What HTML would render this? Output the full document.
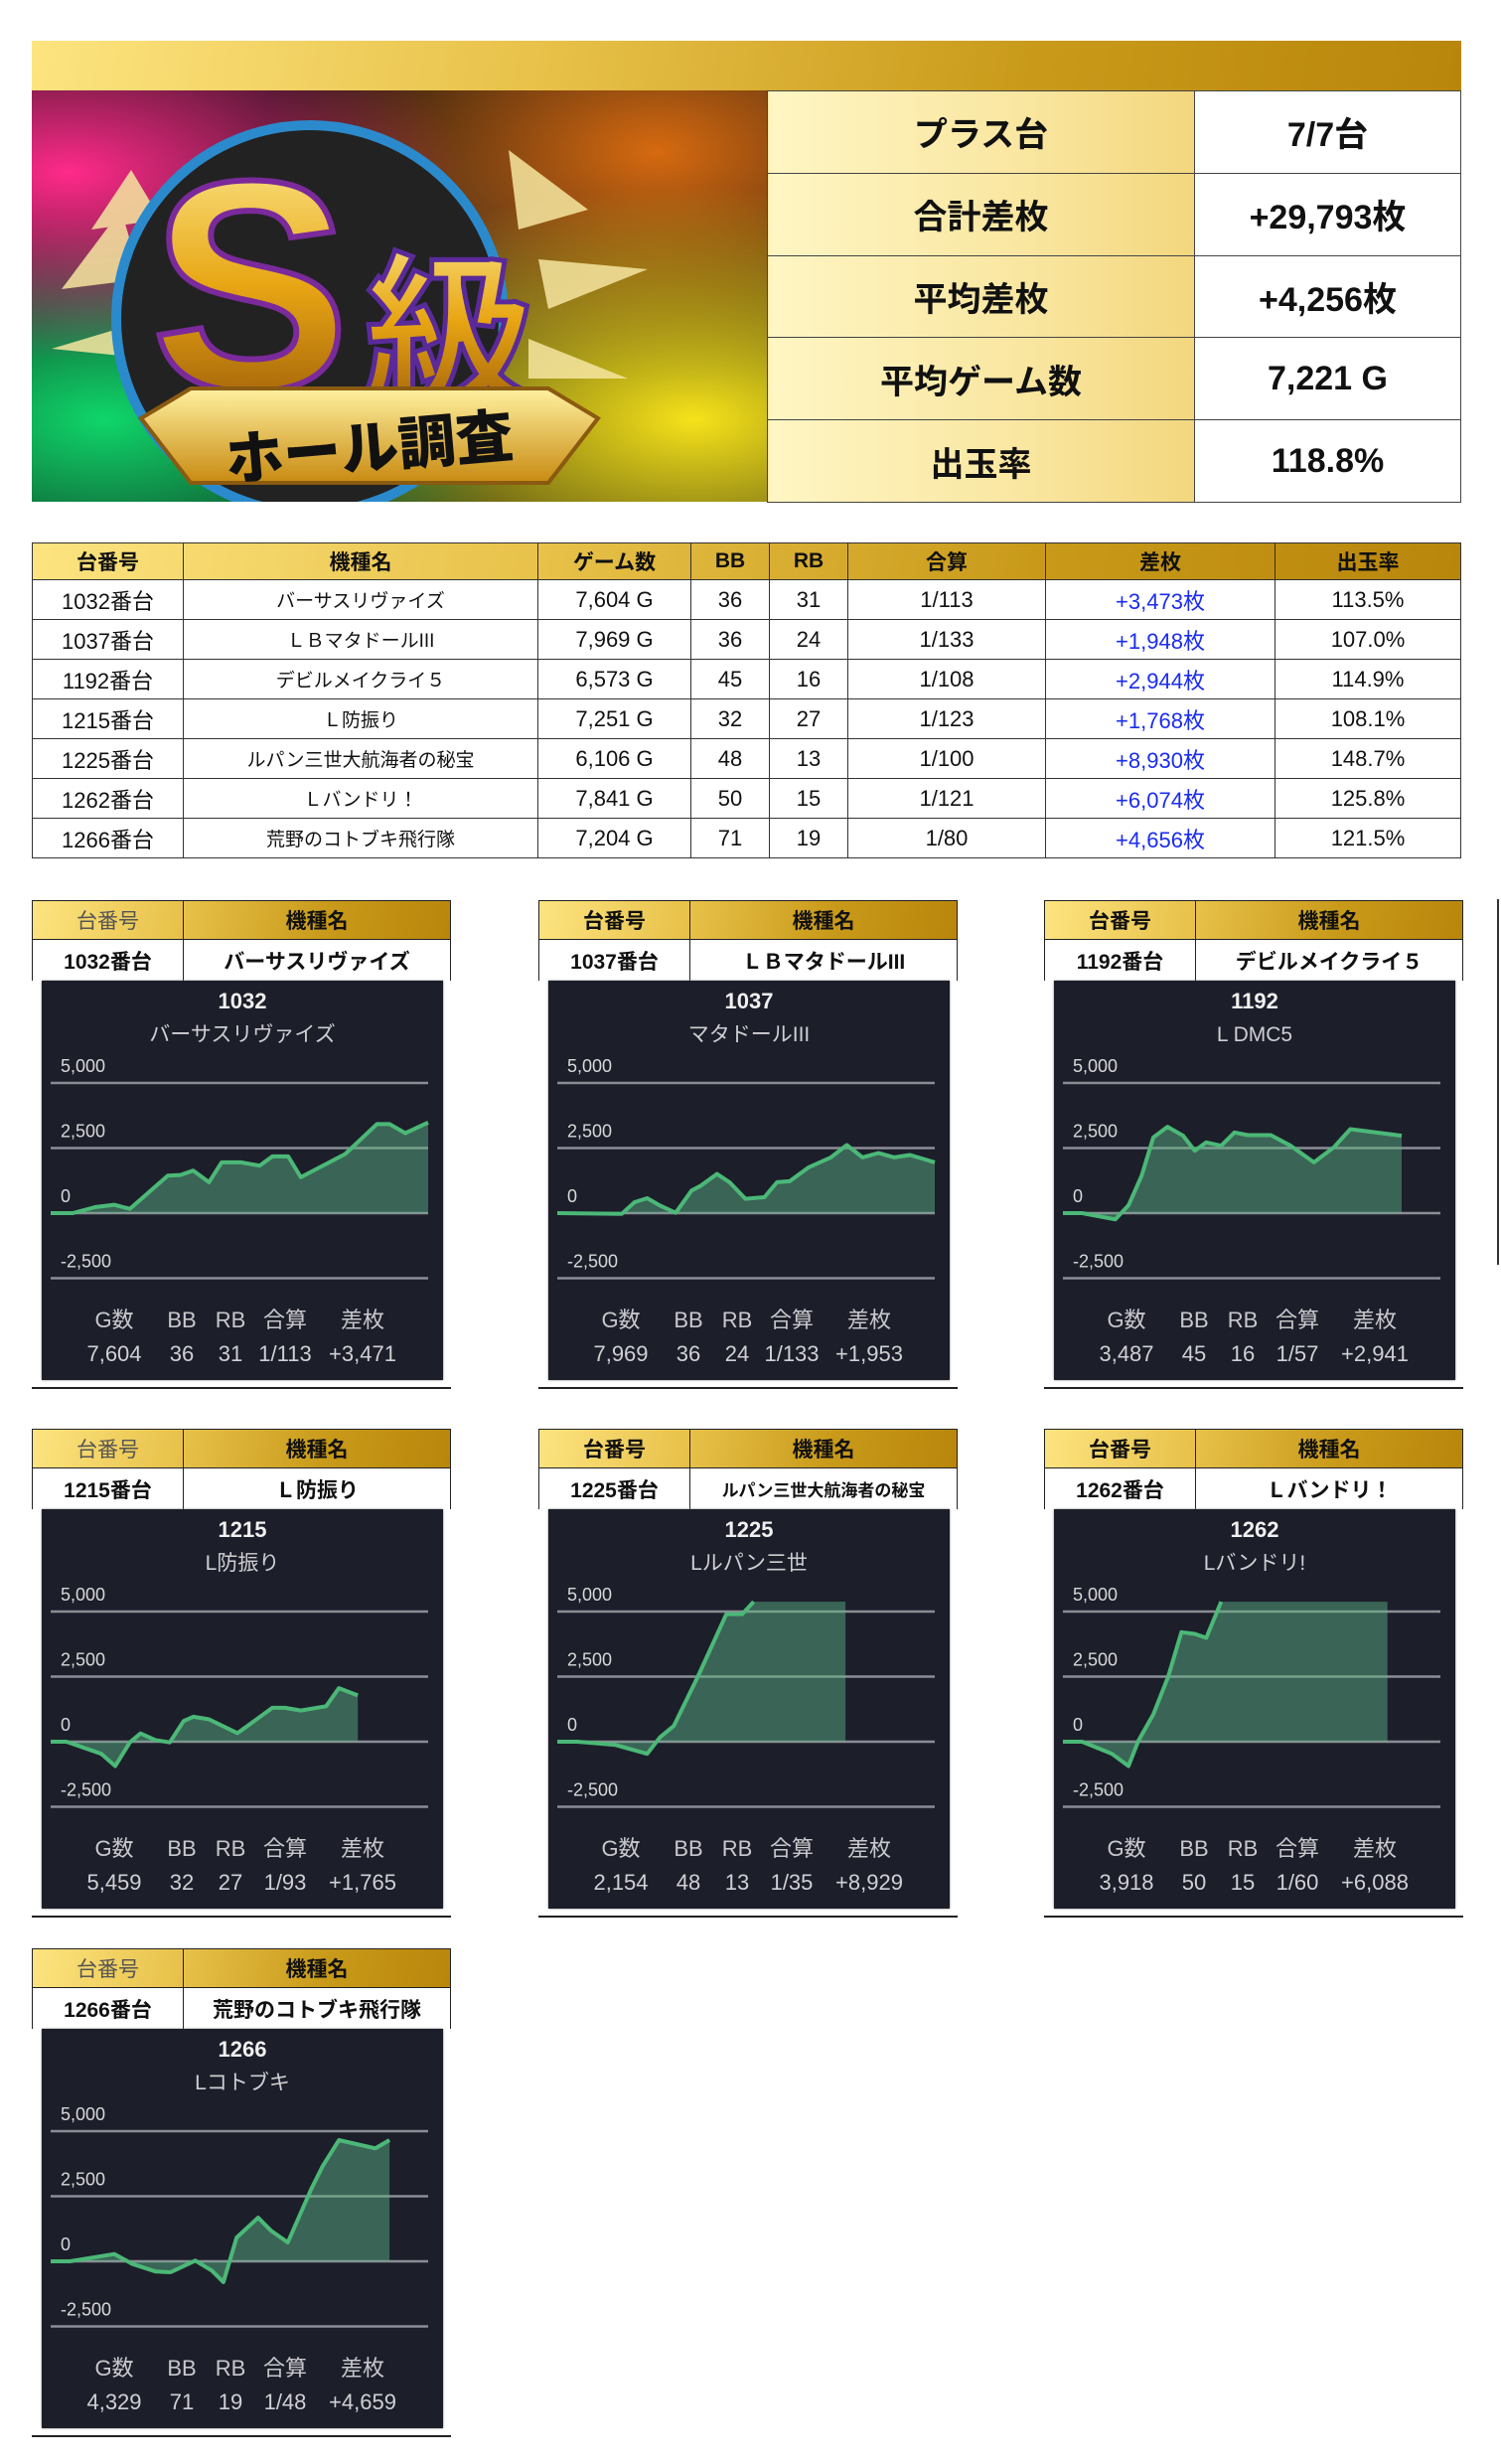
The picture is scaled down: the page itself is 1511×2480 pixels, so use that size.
<!DOCTYPE html>
<html><head><meta charset="utf-8">
<style>
*{margin:0;padding:0;box-sizing:border-box}
body{width:1511px;height:2480px;background:#fff;position:relative;overflow:hidden;font-family:"Liberation Sans","Noto Sans CJK JP",sans-serif;color:#111}
.abs{position:absolute}
.gold{background:linear-gradient(100deg,#fde480 0%,#e8c24a 35%,#c99a1a 70%,#b8860b 100%)}
#banner{left:32px;top:41px;width:1439px;height:50px}
#hero{left:32px;top:91px;width:740px;height:414px;overflow:hidden;
background:
radial-gradient(ellipse at 5% 20%,#ff2a8a 0%,rgba(255,40,140,0) 40%),
radial-gradient(ellipse at 10% 80%,#0fd66a 0%,rgba(20,200,100,0) 45%),
radial-gradient(ellipse at 90% 80%,#f6e21a 0%,rgba(240,220,20,0) 50%),
radial-gradient(ellipse at 85% 15%,#d66a10 0%,rgba(200,100,10,0) 45%),
radial-gradient(ellipse at 45% 50%,#2a2a2a 0%,#111 60%)}
#stats{left:772px;top:91px;width:699px;height:414px;border:1.5px solid #333;border-collapse:collapse}
#stats td{border:1.5px solid #444;height:82.8px;text-align:center;font-weight:bold;font-size:34px}
#stats td.l{width:430px;background:linear-gradient(90deg,#fff6c4,#f9e6a0 60%,#f3d77e)}
table.main{position:absolute;left:32px;top:546px;width:1439px;border-collapse:collapse;font-family:"Liberation Sans Narrow","Liberation Sans","Noto Sans CJK JP",sans-serif}
table.main th{height:37px;font-size:21px;font-weight:bold;border:1px solid #333}
table.main td{height:40px;font-size:22px;text-align:center;border:1px solid #333}
.blue{color:#1a2cf0}
.card{position:absolute;width:422px}
.ch{height:40px;display:flex;border:1px solid #222}
.ch div,.cd div{display:flex;align-items:center;justify-content:center;font-weight:bold;font-size:21px}
.ch div:first-child,.cd div:first-child{width:152px;border-right:1px solid #222}
.ch div:last-child,.cd div:last-child{flex:1}
.cd{height:41px;display:flex;border-left:1px solid #222;border-right:1px solid #222;background:#fff}
.thin{font-weight:normal!important;color:#555}
.cb{position:absolute;background:#1c1f2a;box-shadow:0 0 2px #777}
.bl{position:absolute;height:2px;background:#222}
</style></head><body>
<div id="banner" class="abs gold"></div>
<div id="hero" class="abs">
<svg width="740" height="414" style="position:absolute;left:0;top:0">
<defs>
<linearGradient id="g1" x1="0" y1="0" x2="0" y2="1"><stop offset="0" stop-color="#fff3a0"/><stop offset=".5" stop-color="#e8a614"/><stop offset="1" stop-color="#8a4a05"/></linearGradient>
<linearGradient id="g2" x1="0" y1="0" x2="0" y2="1"><stop offset="0" stop-color="#fff1a0"/><stop offset="1" stop-color="#c88a10"/></linearGradient>
</defs>
<g fill="#f6e6a0" opacity=".85">
<polygon points="90,120 30,200 110,190"/><polygon points="100,80 60,140 130,130"/><polygon points="120,230 20,260 120,270"/>
<polygon points="480,60 560,120 490,140"/><polygon points="510,170 620,180 520,220"/><polygon points="500,250 600,290 500,290"/>
</g>
<circle cx="280" cy="230" r="195" fill="#222" stroke="#2a8acc" stroke-width="10"/>
<text x="220" y="300" text-anchor="middle" font-size="300" font-weight="bold" font-family="Liberation Sans" fill="url(#g1)" stroke="#7a2a9a" stroke-width="6">S</text>
<text x="420" y="305" text-anchor="middle" font-size="170" font-weight="bold" font-family="Noto Sans CJK JP" fill="url(#g1)" stroke="#5a2a9a" stroke-width="5">級</text>
<polygon points="110,330 160,300 520,300 570,330 520,395 160,395" fill="url(#g2)" stroke="#8a5a10" stroke-width="4"/>
<text x="340" y="380" text-anchor="middle" font-size="58" font-weight="900" font-family="Noto Sans CJK JP" fill="#111" transform="rotate(-5 340 360)">ホール調査</text>
</svg>
</div>
<table id="stats" class="abs">
<tr><td class="l">プラス台</td><td>7/7台</td></tr>
<tr><td class="l">合計差枚</td><td>+29,793枚</td></tr>
<tr><td class="l">平均差枚</td><td>+4,256枚</td></tr>
<tr><td class="l">平均ゲーム数</td><td>7,221 G</td></tr>
<tr><td class="l">出玉率</td><td>118.8%</td></tr>
</table>
<table class="main">
<tr class="gold"><th style="width:152px">台番号</th><th style="width:357px">機種名</th><th style="width:154px">ゲーム数</th><th style="width:79px">BB</th><th style="width:79px">RB</th><th style="width:199px">合算</th><th style="width:231px">差枚</th><th>出玉率</th></tr>
<tr><td>1032番台</td><td style="font-size:19px">バーサスリヴァイズ</td><td>7,604 G</td><td>36</td><td>31</td><td>1/113</td><td class="blue">+3,473枚</td><td>113.5%</td></tr>
<tr><td>1037番台</td><td style="font-size:19px">ＬＢマタドールIII</td><td>7,969 G</td><td>36</td><td>24</td><td>1/133</td><td class="blue">+1,948枚</td><td>107.0%</td></tr>
<tr><td>1192番台</td><td style="font-size:19px">デビルメイクライ５</td><td>6,573 G</td><td>45</td><td>16</td><td>1/108</td><td class="blue">+2,944枚</td><td>114.9%</td></tr>
<tr><td>1215番台</td><td style="font-size:19px">Ｌ防振り</td><td>7,251 G</td><td>32</td><td>27</td><td>1/123</td><td class="blue">+1,768枚</td><td>108.1%</td></tr>
<tr><td>1225番台</td><td style="font-size:19px">ルパン三世大航海者の秘宝</td><td>6,106 G</td><td>48</td><td>13</td><td>1/100</td><td class="blue">+8,930枚</td><td>148.7%</td></tr>
<tr><td>1262番台</td><td style="font-size:19px">Ｌバンドリ！</td><td>7,841 G</td><td>50</td><td>15</td><td>1/121</td><td class="blue">+6,074枚</td><td>125.8%</td></tr>
<tr><td>1266番台</td><td style="font-size:19px">荒野のコトブキ飛行隊</td><td>7,204 G</td><td>71</td><td>19</td><td>1/80</td><td class="blue">+4,656枚</td><td>121.5%</td></tr>
</table>
<div class="abs" style="left:1507px;top:905px;width:2px;height:368px;background:#333"></div>
<div id="cards"></div>
<script>
const cards=[
{x:32,y:906,id:"1032",name:"バーサスリヴァイズ",sub:"バーサスリヴァイズ",thin:true,v:["7,604","36","31","1/113","+3,471"],
 x0:80,W:596,y0:993,s:196,pts:[[80,993],[115,993],[150,975],[180,968],[205,980],[265,880],[285,878],[305,865],[330,900],[350,840],[380,840],[410,850],[430,822],[455,822],[475,885],[545,815],[595,725],[615,725],[640,752],[676,720]]},
{x:542,y:906,id:"1037",name:"ＬＢマタドールIII",sub:"マタドールIII",v:["7,969","36","24","1/133","+1,953"],
 x0:878,W:596,y0:993,s:196,pts:[[878,993],[980,995],[1000,960],[1020,948],[1040,970],[1065,992],[1090,925],[1105,910],[1130,875],[1150,900],[1175,950],[1205,945],[1225,900],[1245,897],[1275,855],[1310,825],[1335,788],[1360,825],[1385,812],[1410,825],[1435,818],[1474,840]]},
{x:1051,y:906,id:"1192",name:"デビルメイクライ５",sub:"L DMC5",v:["3,487","45","16","1/57","+2,941"],
 x0:92,W:1140,y0:993,s:196,pts:[[92,993],[150,993],[250,1012],[290,970],[330,880],[365,765],[408,733],[455,760],[490,805],[525,780],[570,790],[610,750],[650,758],[720,758],[780,790],[850,840],[910,795],[960,740],[1115,760]]},
{x:32,y:1438,id:"1215",name:"Ｌ防振り",sub:"L防振り",thin:true,v:["5,459","32","27","1/93","+1,765"],
 x0:80,W:596,y0:988,s:198,pts:[[80,988],[105,988],[160,1025],[182,1062],[205,990],[222,963],[245,983],[268,990],[290,925],[305,912],[330,920],[375,962],[430,885],[450,885],[475,893],[515,880],[535,825],[565,847]]},
{x:542,y:1438,id:"1225",name:"ルパン三世大航海者の秘宝",sub:"Lルパン三世",small:true,v:["2,154","48","13","1/35","+8,929"],
 x0:878,W:596,y0:988,s:198,pts:[[878,988],[910,988],[970,998],[1020,1025],[1040,975],[1062,940],[1100,790],[1145,600],[1170,600],[1188,562]],flat:1333},
{x:1051,y:1438,id:"1262",name:"Ｌバンドリ！",sub:"Lバンドリ!",v:["3,918","50","15","1/60","+6,088"],
 x0:92,W:1140,y0:988,s:198,pts:[[92,988],[150,988],[240,1025],[290,1062],[320,985],[365,905],[410,790],[450,655],[490,660],[525,672],[570,562]],flat:1072},
{x:32,y:1961,id:"1266",name:"荒野のコトブキ飛行隊",sub:"Lコトブキ",thin:true,v:["4,329","71","19","1/48","+4,659"],
 x0:152,W:1143,y0:977,s:197,pts:[[152,977],[210,977],[345,955],[400,985],[470,1008],[515,1010],[590,975],[640,1005],[675,1040],[715,905],[780,845],[820,885],[870,920],[940,760],[975,690],[1025,610],[1135,635],[1178,610]]}
];
let h="";
for(const c of cards){
 const cy=c.y+81;
 h+=`<div class="card" style="left:${c.x}px;top:${c.y}px"><div class="ch gold"><div class="${c.thin?'thin':''}">台番号</div><div>機種名</div></div><div class="cd"><div>${c.id}番台</div><div style="${c.small?'font-size:17px':''}">${c.name}</div></div></div>`;
 const L=c.x+10,W=404,H=402,gx=9,gw=380,z=234,st=65.5;
 const P=c.pts.map(p=>[gx+(p[0]-c.x0)/c.W*gw, z-(c.y0-p[1])/c.s*st]);
 let line=P.map((p,i)=>(i?"L":"M")+p[0].toFixed(1)+","+p[1].toFixed(1)).join("");
 let last=P[P.length-1];
 let fill=line;
 if(c.flat){const fx=gx+(c.flat-c.x0)/c.W*gw;fill+=`L${fx.toFixed(1)},${last[1].toFixed(1)}L${fx.toFixed(1)},${z}`;}
 else fill+=`L${last[0].toFixed(1)},${z}`;
 fill+=`L${gx},${z}Z`;
 let g="";
 [[5000,"5,000"],[2500,"2,500"],[0,"0"],[-2500,"-2,500"]].forEach(([v,t])=>{const y=z-v/2500*st;g+=`<line x1="${gx}" x2="${gx+gw}" y1="${y}" y2="${y}" stroke="#8a8d94" stroke-width="2.5"/><text x="19" y="${y-11}" font-size="18" fill="#d8d8d8">${t}</text>`;});
 const cols=[73,141,190,245,323],lab=["G数","BB","RB","合算","差枚"];
 let s="";cols.forEach((x,i)=>{s+=`<text x="${x}" y="349" text-anchor="middle" font-size="22" fill="#c8c8cc">${lab[i]}</text><text x="${x}" y="383" text-anchor="middle" font-size="22" fill="#d0d0d4">${c.v[i]}</text>`;});
 h+=`<svg class="cb" style="left:${L}px;top:${cy}px" width="${W}" height="${H}">
 <text x="${W/2}" y="28" text-anchor="middle" font-size="22" font-weight="bold" fill="#f0f0f0">${c.id}</text>
 <text x="${W/2}" y="61" text-anchor="middle" font-size="21" fill="#cfcfd3">${c.sub}</text>
 ${g}<path d="${fill}" fill="#5fb88a" fill-opacity=".45"/><path d="${line}" fill="none" stroke="#4cb878" stroke-width="4" stroke-linejoin="round"/>${s}</svg>`;
 h+=`<div class="bl" style="left:${c.x}px;top:${cy+H+7}px;width:422px"></div>`;
}
document.getElementById("cards").innerHTML=h;
</script>
</body></html>
